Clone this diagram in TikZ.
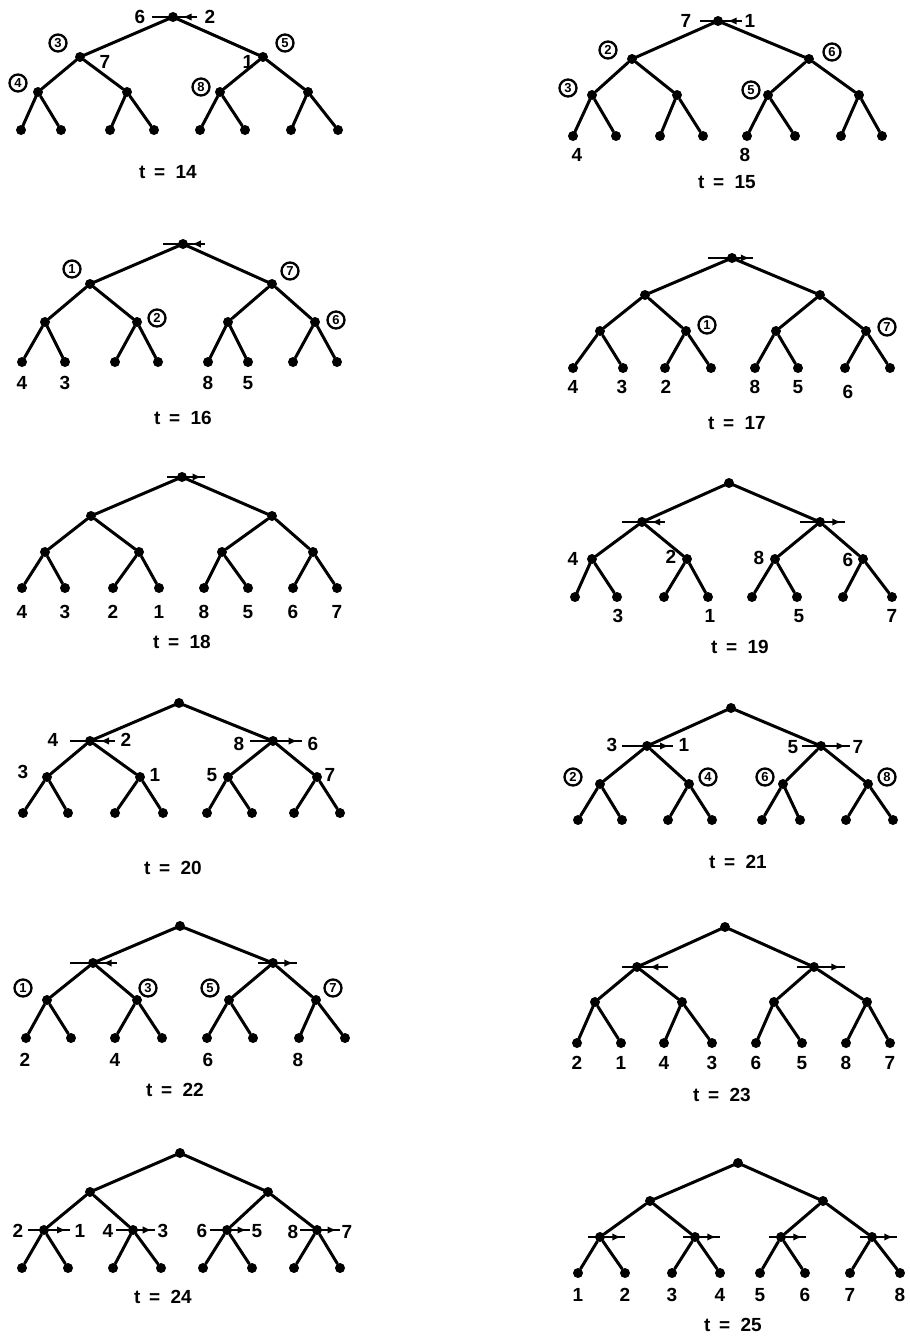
\documentclass[tikz,border=0pt]{standalone}
\usepackage{fontspec}
\setmainfont{Liberation Sans}
\usetikzlibrary{arrows.meta,decorations.markings,calc}

\tikzset{
  dot/.style={circle, fill=black, inner sep=0pt, minimum size=10pt},
  edge/.style={line width=3pt, line cap=round},
  bar/.style={line width=2.3pt},
  flow/.style={bar, postaction={decorate},
    decoration={markings, mark=at position #1 with {\arrow{Latex[length=9pt,width=7.5pt]}}}},
  flow/.default=0.6,
  num/.style={font=\fontsize{19}{19}\selectfont\bfseries, inner sep=0pt},
  tlab/.style={font=\fontsize{19}{19}\selectfont\bfseries, inner sep=0pt},
  circ/.style={circle, draw, line width=2.3pt, inner sep=0pt, minimum size=17pt,
    font=\fontsize{13}{13}\selectfont\bfseries},
}

% complete binary tree of depth 3:
% #1 prefix, #2 root (x,y), #3 level-1 y, #4 level-1 xs,
% #5 level-2 y, #6 level-2 xs, #7 leaf y, #8 leaf xs
\newcommand{\btree}[8]{%
  \node[dot] (#1r) at (#2) {};
  \foreach \x [count=\i] in {#4} {\node[dot] (#1a\i) at (\x,#3) {};}
  \foreach \x [count=\i] in {#6} {\node[dot] (#1b\i) at (\x,#5) {};}
  \foreach \x [count=\i] in {#8} {\node[dot] (#1c\i) at (\x,#7) {};}
  \foreach \i in {1,2} {\draw[edge] (#1r) -- (#1a\i);}
  \foreach \i in {1,...,4} {\pgfmathtruncatemacro{\pp}{ceil(\i/2)}\draw[edge] (#1a\pp) -- (#1b\i);}
  \foreach \i in {1,...,8} {\pgfmathtruncatemacro{\pp}{ceil(\i/2)}\draw[edge] (#1b\pp) -- (#1c\i);}
}

% horizontal exchange bar through a node, arrow pointing right
\newcommand{\cmpR}[3]{%
  \coordinate (#1-w) at ($(#1)+(-#2,0)$);
  \coordinate (#1-e) at ($(#1)+(#3,0)$);
  \draw[bar] (#1-w) -- (#1.center);
  \draw[flow=0.85] (#1.center) -- (#1-e);
}
% horizontal exchange bar through a node, arrow pointing left (towards the node)
\newcommand{\cmpL}[3]{%
  \coordinate (#1-w) at ($(#1)+(-#2,0)$);
  \coordinate (#1-e) at ($(#1)+(#3,0)$);
  \draw[bar] (#1-w) -- (#1.center);
  \draw[flow=0.6] (#1-e) -- (#1.center);
}

\begin{document}
\begin{tikzpicture}[x=1pt,y=-1pt]
\fill[white] (0,0) rectangle (910,1341);
\useasboundingbox (0,0) rectangle (910,1341);

% ---------------- t = 14
\btree{A}{173,17}{57}{80,263}{92}{38,127,220,308}{130}{21,61,110,154,200,245,291,338}
\cmpL{Ar}{21}{24}
\node[num] (A-6) at (140,17) {6};
\node[num] (A-2) at (210,17) {2};
\node[circ] (A-c3) at (58,43) {3};
\node[num] (A-7) at (105,62) {7};
\node[circ] (A-c5) at (285,43) {5};
\node[num] (A-1) at (248,62) {1};
\node[circ] (A-c4) at (18,83) {4};
\node[circ] (A-c8) at (201,87) {8};
\node[tlab] (A-t) at (168,172) {t\hspace{0.45em}=\hspace{0.55em}14};

% ---------------- t = 15
\btree{B}{718,21}{59}{632,809}{95}{592,677,768,859}{136}{573,616,660,703,747,795,841,882}
\cmpL{Br}{18}{24}
\node[num] (B-7) at (686,21) {7};
\node[num] (B-1) at (750,21) {1};
\node[circ] (B-c2) at (608,50) {2};
\node[circ] (B-c6) at (832,52) {6};
\node[circ] (B-c3) at (568,88) {3};
\node[circ] (B-c5) at (751,90) {5};
\node[num] (B-4) at (577,155) {4};
\node[num] (B-8) at (745,155) {8};
\node[tlab] (B-t) at (727,182) {t\hspace{0.45em}=\hspace{0.55em}15};

% ---------------- t = 16
\btree{C}{183,244}{284}{90,272}{322}{45,137,228,315}{362}{22,65,115,158,208,248,293,337}
\cmpL{Cr}{20}{22}
\node[circ] (C-c1) at (72,269) {1};
\node[circ] (C-c7) at (290,271) {7};
\node[circ] (C-c2) at (157,318) {2};
\node[circ] (C-c6) at (336,320) {6};
\node[num] (C-4) at (22,383) {4};
\node[num] (C-3) at (65,383) {3};
\node[num] (C-8) at (208,383) {8};
\node[num] (C-5) at (248,383) {5};
\node[tlab] (C-t) at (183,418) {t\hspace{0.45em}=\hspace{0.55em}16};

% ---------------- t = 17
\btree{D}{732,258}{295}{645,820}{331}{600,686,776,866}{368}{573,623,665,711,755,798,845,890}
\cmpR{Dr}{24}{21}
\node[circ] (D-c1) at (707,325) {1};
\node[circ] (D-c7) at (887,327) {7};
\node[num] (D-4) at (573,387) {4};
\node[num] (D-3) at (622,387) {3};
\node[num] (D-2) at (666,387) {2};
\node[num] (D-8) at (755,387) {8};
\node[num] (D-5) at (798,387) {5};
\node[num] (D-6) at (848,392) {6};
\node[tlab] (D-t) at (737,423) {t\hspace{0.45em}=\hspace{0.55em}17};

% ---------------- t = 18
\btree{E}{182,477}{516}{91,272}{552}{45,139,222,313}{588}{22,65,113,159,204,248,293,337}
\cmpR{Er}{15}{23}
\foreach \v [count=\i] in {4,3,2,1,8,5,6,7}
  {\node[num] (E-l\i) at ($(Ec\i)+(0,24)$) {\v};}
\node[tlab] (E-t) at (182,642) {t\hspace{0.45em}=\hspace{0.55em}18};

% ---------------- t = 19
\btree{F}{729,483}{522}{642,820}{559}{592,687,775,863}{597}{575,617,664,708,752,797,843,892}
\cmpL{Fa1}{20}{23}
\cmpR{Fa2}{20}{25}
\node[num] (F-4) at (573,559) {4};
\node[num] (F-2) at (671,557) {2};
\node[num] (F-8) at (759,558) {8};
\node[num] (F-6) at (848,560) {6};
\node[num] (F-3) at (618,616) {3};
\node[num] (F-1) at (710,616) {1};
\node[num] (F-5) at (799,616) {5};
\node[num] (F-7) at (892,616) {7};
\node[tlab] (F-t) at (740,647) {t\hspace{0.45em}=\hspace{0.55em}19};

% ---------------- t = 20
\btree{G}{179,703}{741}{90,273}{777}{47,140,228,317}{813}{23,68,115,163,207,252,294,340}
\cmpL{Ga1}{20}{25}
\cmpR{Ga2}{23}{29}
\node[num] (G-4) at (53,740) {4};
\node[num] (G-2) at (126,740) {2};
\node[num] (G-8) at (239,744) {8};
\node[num] (G-6) at (313,744) {6};
\node[num] (G-3) at (23,772) {3};
\node[num] (G-1) at (155,775) {1};
\node[num] (G-5) at (212,775) {5};
\node[num] (G-7) at (330,775) {7};
\node[tlab] (G-t) at (173,868) {t\hspace{0.45em}=\hspace{0.55em}20};

% ---------------- t = 21
\btree{H}{731,708}{746}{647,821}{784}{600,689,783,868}{820}{578,622,668,712,762,800,846,893}
\cmpR{Ha1}{25}{26}
\cmpR{Ha2}{19}{29}
\node[num] (H-3) at (612,745) {3};
\node[num] (H-1) at (684,745) {1};
\node[num] (H-5) at (793,747) {5};
\node[num] (H-7) at (858,747) {7};
\node[circ] (H-c2) at (573,777) {2};
\node[circ] (H-c4) at (708,777) {4};
\node[circ] (H-c6) at (765,777) {6};
\node[circ] (H-c8) at (887,777) {8};
\node[tlab] (H-t) at (738,862) {t\hspace{0.45em}=\hspace{0.55em}21};

% ---------------- t = 22
\btree{I}{180,926}{963}{93,273}{1000}{47,137,229,316}{1038}{26,71,115,162,207,253,299,345}
\cmpL{Ia1}{23}{24}
\cmpR{Ia2}{15}{24}
\node[circ] (I-c1) at (23,988) {1};
\node[circ] (I-c3) at (148,988) {3};
\node[circ] (I-c5) at (210,988) {5};
\node[circ] (I-c7) at (333,988) {7};
\node[num] (I-2) at (25,1060) {2};
\node[num] (I-4) at (115,1060) {4};
\node[num] (I-6) at (208,1060) {6};
\node[num] (I-8) at (298,1060) {8};
\node[tlab] (I-t) at (175,1090) {t\hspace{0.45em}=\hspace{0.55em}22};

% ---------------- t = 23
\btree{J}{725,927}{967}{637,814}{1002}{595,682,774,867}{1043}{577,621,664,712,756,802,846,890}
\cmpL{Ja1}{15}{31}
\cmpR{Ja2}{17}{31}
\foreach \v [count=\i] in {2,1,4,3,6,5,8,7}
  {\node[num] (J-l\i) at ($(Jc\i)+(0,20)$) {\v};}
\node[tlab] (J-t) at (722,1095) {t\hspace{0.45em}=\hspace{0.55em}23};

% ---------------- t = 24
\btree{K}{180,1153}{1192}{90,268}{1230}{44,133,227,317}{1268}{22,68,113,161,203,252,294,340}
\cmpR{Kb1}{16}{26}
\cmpR{Kb2}{17}{22}
\cmpR{Kb3}{17}{23}
\cmpR{Kb4}{17}{23}
\node[num] (K-2) at (18,1231) {2};
\node[num] (K-1) at (80,1231) {1};
\node[num] (K-4) at (108,1231) {4};
\node[num] (K-3) at (163,1231) {3};
\node[num] (K-6) at (202,1231) {6};
\node[num] (K-5) at (257,1231) {5};
\node[num] (K-8) at (293,1232) {8};
\node[num] (K-7) at (347,1232) {7};
\node[tlab] (K-t) at (163,1297) {t\hspace{0.45em}=\hspace{0.55em}24};

% ---------------- t = 25
\btree{L}{738,1163}{1201}{650,823}{1237}{600,695,781,872}{1273}{578,625,672,720,760,805,850,900}
\foreach \i in {1,...,4} {\cmpR{Lb\i}{12}{25}}
\foreach \v [count=\i] in {1,2,3,4,5,6,7,8}
  {\node[num] (L-l\i) at ($(Lc\i)+(0,22)$) {\v};}
\node[tlab] (L-t) at (733,1325) {t\hspace{0.45em}=\hspace{0.55em}25};

\end{tikzpicture}
\end{document}
